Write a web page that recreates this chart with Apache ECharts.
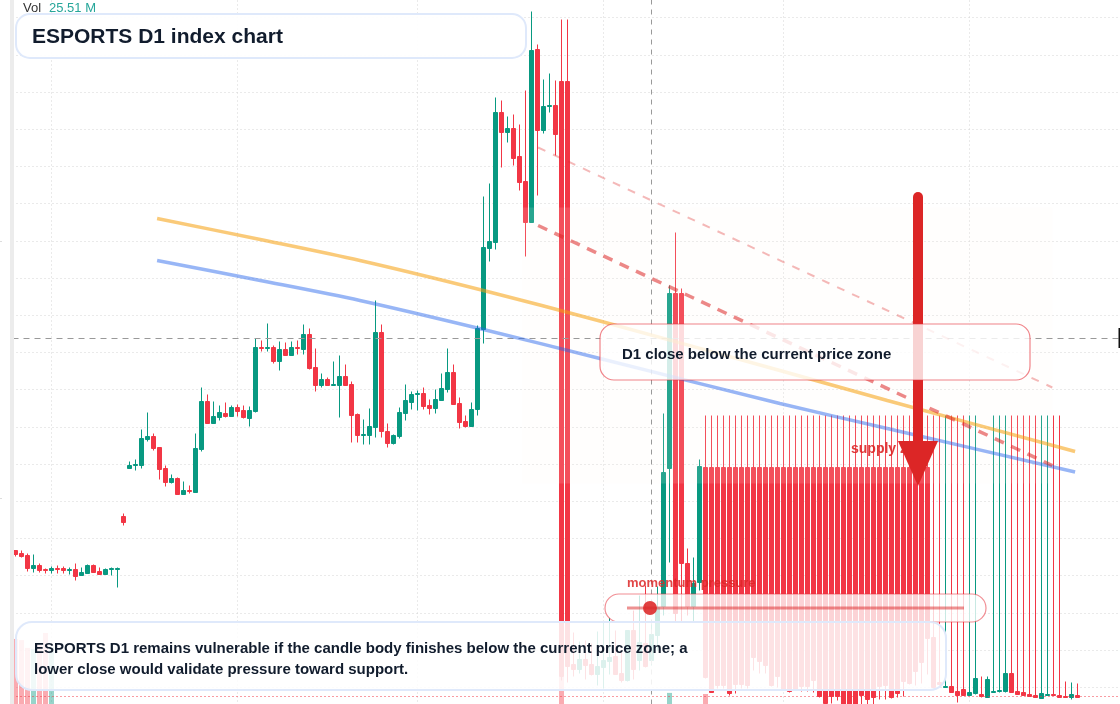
<!DOCTYPE html>
<html>
<head>
<meta charset="utf-8">
<style>html,body{margin:0;padding:0;background:#fff}#c{width:1120px;height:704px}</style>
<script src="https://cdn.jsdelivr.net/npm/echarts@6/dist/echarts.min.js"></script>
</head>
<body>
<div id="c"></div>
<script>
const opens = [174,171,169,156,159,155,154,156,156,154,155,149,151,159,153,150,155,155,208,256,
259,259,285,288,277,256,242,246,230,234,232,275,323,301,307,311,308,317,314,306,
313,377,376,377,363,375,369,377,375,390,357,339,345,339,339,348,340,310,289,289,
297,392,293,281,288,311,322,330,331,319,316,324,335,352,321,303,298,315,395,476,
482,612,592,596,568,543,502,675,594,618,619,643,643,60,55,65,60,50,57,63,
68,51,44,94,64,81,64,89,118,256,431,431,161,118,142,
257,257,257,257,257,257,257,257,257,257,257,257,257,257,257,257,257,257,257,
257,257,257,257,257,257,257,257,257,257,257,257,257,257,257,257,257,257,257,
87,42,37,38,33,35,29,31,30,27,32,33,33,51,33,32,30,29,26,29,30,29,28,27,29];
const closes = [170,168,156,159,154,154,156,155,154,155,148,152,159,152,150,155,156,156,202,259,
260,286,288,276,255,242,246,230,234,233,276,323,301,308,312,308,317,313,307,314,
377,376,377,363,375,369,377,376,390,356,339,345,339,340,348,339,309,289,290,298,
392,293,281,289,312,324,330,331,318,316,325,336,352,320,302,298,315,396,477,483,
612,592,596,566,542,502,674,594,618,619,590,48,58,55,65,59,50,58,64,67,
50,44,94,55,82,58,90,117,252,431,111,161,118,141,258,47,32,39,39,31,
40,40,39,67,63,59,39,48,35,33,35,38,38,44,28,21,28,28,18,18,
18,29,25,27,38,39,27,31,43,41,53,62,86,37,40,38,32,29,29,32,
46,28,45,33,34,51,32,30,29,28,27,31,30,29,27,27,30,27];
const lows = [168,167,153,152,152,151,151,151,151,150,144,149,151,152,150,150,149,137,199,256,
254,256,283,274,245,238,241,230,230,231,232,273,301,301,304,307,308,308,306,298,
312,373,373,361,354,369,369,370,370,355,333,337,339,339,307,339,282,282,280,280,
287,287,277,280,286,304,315,314,315,310,311,324,332,320,296,297,298,309,381,463,
475,557,582,559,534,468,502,529,591,612,569,44,42,48,51,45,49,39,36,50,
50,42,43,45,54,57,59,74,109,162,102,102,109,102,134,46,32,36,36,29,
31,36,36,54,51,51,38,37,34,32,34,33,33,32,27,20,21,24,16,16,
16,18,18,18,25,25,26,27,28,40,39,41,50,36,39,37,32,22,29,29,
30,27,27,32,32,32,32,30,29,28,27,26,29,29,27,27,25,27];
const highs = [174,174,171,170,161,156,158,159,158,157,161,157,160,160,157,156,157,157,211,263,
265,295,312,291,277,259,250,247,243,239,291,337,330,323,319,322,319,320,319,318,
386,384,401,379,383,382,383,384,400,396,376,351,347,363,369,360,343,311,305,316,
424,400,301,290,317,340,333,334,337,325,335,351,376,360,327,309,322,399,528,541,
627,624,608,610,600,634,713,680,645,651,644,705,705,92,83,84,81,93,102,107,
94,74,94,114,129,139,104,138,311,439,492,436,176,167,265,
309,309,309,309,309,309,309,309,309,309,309,309,309,309,309,309,309,309,309,
309,309,309,309,309,309,309,309,309,309,309,309,309,309,309,309,309,309,309,
309,309,309,309,309,309,309,309,48,48,309,309,309,309,309,309,309,309,309,309,309,309,43,42,41];
const volumeIndex = [0,1,2,3,4,5,6,91,109,115];
const volumeValues = [23.0,22.7,20.6,20.3,21.4,24.6,20.8,12.8,8.5,8.2];
const monthStarts = [6,37,67,98,128,159];
const orangeX = [23.6,40.8,57.4,78,97.4,127.4,145.3,176.6];
const orangeY = [506,485,464,434,403.5,354,324,273];
const blueX = [23.6,40.8,57.4,78,97.4,127.4,145.3,176.6];
const blueY = [464,444,424,395,366,321,296,252.5];
const dashX = [87.1,172.8];
const dashThick = [499,259];
const dashThin = [577,337];
const zoneX = [84.4,172.8];
const zoneY = [241,517];
const lastPrice = 386;
const crossIndex = 106;
const supportLevel = 28;
const titleText = 'ESPORTS D1 index chart';
const calloutText = 'D1 close below the current price zone';
const summaryLines = ['ESPORTS D1 remains vulnerable if the candle body finishes below the current price zone; a','lower close would validate pressure toward support.'];

const GREEN='#089981', RED='#f23645', INK='#111c2d';
const F='"Liberation Sans", Arial, sans-serif';
const N=185;
const cats=Array.from({length:N},(_,i)=>String(i));
const candles=opens.map((o,i)=>[o,closes[i],lows[i],highs[i]]);
const zip=(a,b)=>a.map((x,i)=>[x,b[i]]);

function card(x,y,w,h,r,fill,stroke,lw,z){
  return {type:'rect',z,silent:true,shape:{x,y,width:w,height:h,r},style:{fill,stroke,lineWidth:lw}};
}
function text(x,y,t,font,fill,z,extra){
  return {type:'text',z,silent:true,x,y,style:Object.assign({text:t,font,fill,textVerticalAlign:'middle'},extra||{})};
}

const chart=echarts.init(document.getElementById('c'),null,{renderer:'canvas'});
chart.setOption({
  animation:false,
  backgroundColor:'#fff',
  grid:{left:12.5,top:-19.5,width:6*N,height:744,containLabel:false,outerBoundsMode:'none'},
  xAxis:[
    {type:'category',data:cats,boundaryGap:true,axisLine:{show:false},axisTick:{show:false},axisLabel:{show:false},
     splitLine:{show:true,alignWithLabel:true,interval:(i)=>monthStarts.includes(i),lineStyle:{color:'#d4d4d4',type:[1,3],width:1}}},
    {type:'value',min:-0.5,max:N-0.5,show:false,splitLine:{show:false}}
  ],
  yAxis:[
    {type:'value',min:0,max:744,interval:37.2,axisLine:{show:false},axisTick:{show:false},axisLabel:{show:false},
     splitLine:{show:true,lineStyle:{color:'#d4d4d4',type:[1,3],width:1}}},
    {type:'value',min:0,max:200,show:false,splitLine:{show:false}}
  ],
  series:[
    {type:'bar',name:'Vol',xAxisIndex:0,yAxisIndex:1,barWidth:5,z:1,
     data:volumeIndex.map((idx,k)=>({value:[idx,volumeValues[k]],itemStyle:{color:closes[idx]>=opens[idx]?GREEN:RED,opacity:0.42}}))},
    {type:'candlestick',name:'ESPORTS',xAxisIndex:0,yAxisIndex:0,barWidth:4,z:2,clip:true,
     itemStyle:{color:GREEN,color0:RED,borderColor:GREEN,borderColor0:RED,borderWidth:1},
     data:candles,
     markLine:{silent:true,symbol:'none',z:3,animation:false,label:{show:false},
       data:[
         {xAxis:crossIndex,lineStyle:{color:'#999',type:[5,5],width:1}},
         {yAxis:lastPrice,lineStyle:{color:'#999',type:[6,5],width:1}},
         {yAxis:supportLevel,lineStyle:{color:RED,type:[1,3],width:1}}
       ]}},
    {type:'line',xAxisIndex:1,yAxisIndex:0,z:5,symbol:'none',smooth:0.3,data:zip(orangeX,orangeY),lineStyle:{color:'#f59e0b',opacity:0.55,width:3.5}},
    {type:'line',xAxisIndex:1,yAxisIndex:0,z:5,symbol:'none',smooth:0.3,data:zip(blueX,blueY),lineStyle:{color:'#2563eb',opacity:0.47,width:3.5}},
    {type:'line',xAxisIndex:1,yAxisIndex:0,z:5,symbol:'none',data:zip(dashX,dashThick),lineStyle:{color:'#dc2626',opacity:0.55,width:3.5,type:[10,8]}},
    {type:'line',xAxisIndex:1,yAxisIndex:0,z:5,symbol:'none',data:zip(dashX,dashThin),lineStyle:{color:'#dc2626',opacity:0.32,width:2,type:[8,8.5]},
     markArea:{silent:true,z:3,itemStyle:{color:'rgba(255,247,237,0.135)'},
       data:[[{coord:[zoneX[0],zoneY[1]]},{coord:[zoneX[1],zoneY[0]]}]]}}
  ],
  graphic:{elements:[
    {type:'rect',z:30,silent:true,shape:{x:10,y:0,width:4,height:704},style:{fill:'#ececec'}},
    {type:'rect',z:30,silent:true,shape:{x:0,y:241,width:2,height:1},style:{fill:'#ddd'}},
    {type:'rect',z:30,silent:true,shape:{x:0,y:498,width:2,height:1},style:{fill:'#ddd'}},
    {type:'rect',z:30,silent:true,shape:{x:1118.5,y:328,width:2,height:20},style:{fill:'#111'}},
    text(851,449,'supply zone','bold 14px '+F,'rgba(220,38,38,0.9)',6),
    text(627,583,'momentum pressure','bold 13px '+F,'rgba(220,38,38,0.85)',6),
    {type:'line',z:7,silent:true,shape:{x1:918,y1:197,x2:918,y2:445},style:{stroke:'#dc2626',lineWidth:10,lineCap:'round'}},
    {type:'polygon',z:7,silent:true,shape:{points:[[898,441],[938,441],[918,486]]},style:{fill:'#dc2626'}},
    card(605,594,381,28,14,'rgba(255,255,255,0.78)','rgba(230,50,60,0.55)',1.2,8),
    {type:'line',z:9,silent:true,shape:{x1:627,y1:608,x2:964,y2:608},style:{stroke:'rgba(220,38,38,0.5)',lineWidth:3}},
    {type:'circle',z:9,silent:true,shape:{cx:650,cy:608,r:7},style:{fill:'rgba(220,38,38,0.88)'}},
    card(600,324,430,56,14,'rgba(255,255,255,0.8)','rgba(230,50,60,0.6)',1.2,10),
    text(622,355,calloutText,'bold 15px '+F,INK,11),
    card(16,622,930,68,16,'rgba(255,255,255,0.86)','#dfe9fb',2,12),
    text(34,649,summaryLines[0],'bold 15px '+F,INK,13),
    text(34,670,summaryLines[1],'bold 15px '+F,INK,13),
    text(23,8.5,'Vol','13px '+F,'#333',14),
    text(49,8.5,'25.51 M','13px '+F,'#26a69a',14),
    card(16,14,510,44,14,'rgba(255,255,255,0.92)','#dfe9fb',2,15),
    text(32,37,titleText,'bold 21px '+F,INK,16)
  ]}
});
</script>
</body>
</html>
